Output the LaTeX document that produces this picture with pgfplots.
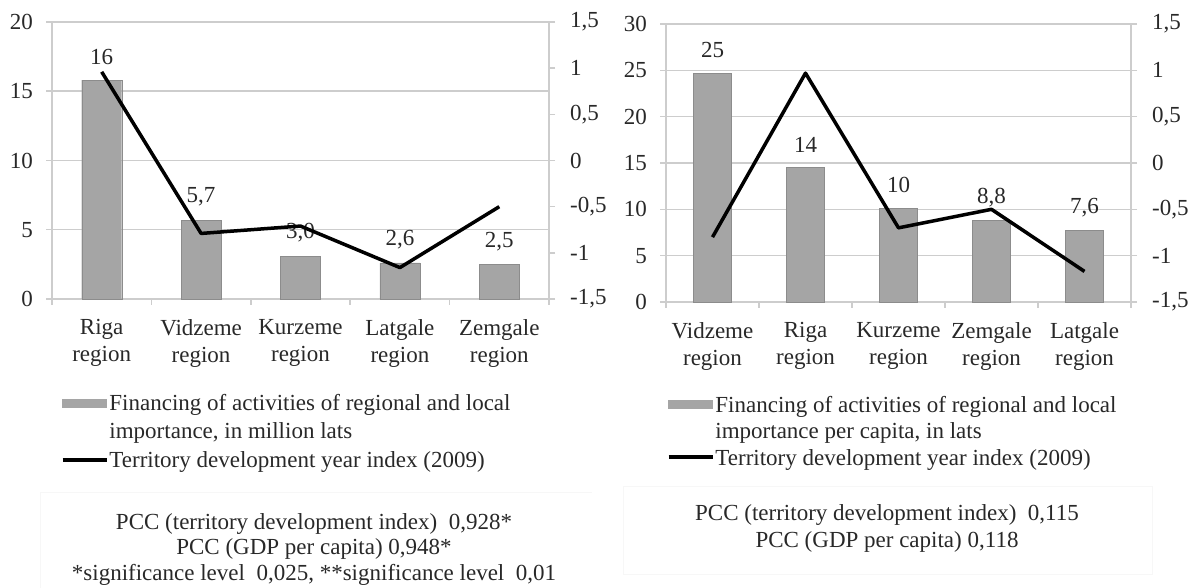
\documentclass[border=0pt]{standalone}
\usepackage{pgfplots}
\pgfplotsset{compat=1.18}
\usepackage{fontspec}
\setmainfont{Liberation Serif}

\definecolor{barfill}{RGB}{165,165,165}
\definecolor{barline}{RGB}{140,140,140}
\definecolor{gridc}{RGB}{205,205,205}
\definecolor{txt}{RGB}{40,40,40}
\newcommand{\fs}{\fontsize{23}{27}\selectfont}

\pgfplotsset{
  base/.style={
    scale only axis, anchor=south west, clip=false,
    xmin=-0.5, xmax=4.5,
    tick align=outside, major tick length=6pt,
    every tick/.style={gridc, line width=1.5pt},
    axis line style={gridc, line width=1.5pt},
    tick label style={font=\fs, text=txt, inner sep=0pt},
  },
  bars/.style={base,
    axis x line*=bottom, axis y line*=left,
    ymin=0, ymajorgrids, grid style={gridc, line width=1.5pt},
    xtick={-0.5,0.5,...,4.5}, x tick label as interval,
    xticklabel style={align=center, anchor=north, yshift=-14pt},
    yticklabel style={anchor=east, xshift=-13pt},
    nodes near coords={\pgfplotspointmeta}, point meta=explicit symbolic,
    every node near coord/.append style={font=\fs, text=txt, anchor=center, yshift=23pt},
    legend cell align=left,
  },
  lines/.style={base,
    axis x line=none, axis y line*=right,
    ymin=-1.5, ymax=1.5, ytick={-1.5,-1,...,1.5},
    yticklabels={{-1,5},{-1},{-0,5},0,{0,5},1,{1,5}},
    yticklabel style={anchor=west, xshift=15pt},
  },
  legbox/.style={draw=none, fill=none, inner sep=0pt, outer sep=0pt,
    row sep=0pt, column sep=1pt, font=\fs, text=txt, anchor=north west},
  barleg/.style={legend image code/.code={\fill[barfill] (0pt,-0.2pt) rectangle (44pt,7.8pt);}},
  lineleg/.style={legend image code/.code={\draw[black, line width=3.5pt] (0pt,3.8pt) -- (44pt,3.8pt);}},
}

\begin{document}
\begin{tikzpicture}
\useasboundingbox (0,0) rectangle (1191pt,588pt);

% ---------- left panel ----------
\begin{axis}[bars, at={(52pt,289pt)}, width=497pt, height=277pt,
    ymax=20, ytick={0,5,...,20}, yticklabels={0,5,10,15,20},
    xticklabels={{Riga\\region},{Vidzeme\\region},{Kurzeme\\region},{Latgale\\region},{Zemgale\\region}},
    legend style={legbox, at={(0.018,-0.3375)},
      nodes={inner sep=0pt, text height=18pt, text depth=10.5pt}}]
  \addplot[ybar, bar width=40pt, fill=barfill, draw=barline, barleg] coordinates {
    (0,15.8)[16] (1,5.7)[5,7] (2,3.1)[3,0] (3,2.6)[2,6] (4,2.5)[2,5]
  };
  \addlegendentry{Financing of activities of regional and local}
  \addlegendimage{empty legend}
  \addlegendentry{importance, in million lats}
  \addlegendimage{lineleg}
  \addlegendentry{Territory development year index (2009)}
\end{axis}
\begin{axis}[lines, at={(52pt,289pt)}, width=497pt, height=277pt]
  \addplot[black, line width=3.5pt, line join=round, mark=none] coordinates {
    (0,0.96) (1,-0.79) (2,-0.71) (3,-1.16) (4,-0.50)
  };
\end{axis}

% ---------- right panel ----------
\begin{axis}[bars, at={(666pt,286pt)}, width=465pt, height=278pt,
    ymax=30, ytick={0,5,...,30}, yticklabels={0,5,10,15,20,25,30},
    xticklabels={{Vidzeme\\region},{Riga\\region},{Kurzeme\\region},{Zemgale\\region},{Latgale\\region}},
    legend style={legbox, at={(0.002,-0.3327)},
      nodes={inner sep=0pt, text height=18pt, text depth=8.5pt}}]
  \addplot[ybar, bar width=38pt, fill=barfill, draw=barline, barleg] coordinates {
    (0,24.7)[25] (1,14.5)[14] (2,10.1)[10] (3,8.8)[8,8] (4,7.7)[7,6]
  };
  \addlegendentry{Financing of activities of regional and local}
  \addlegendimage{empty legend}
  \addlegendentry{importance per capita, in lats}
  \addlegendimage{lineleg}
  \addlegendentry{Territory development year index (2009)}
\end{axis}
\begin{axis}[lines, at={(666pt,286pt)}, width=465pt, height=278pt]
  \addplot[black, line width=3.5pt, line join=round, mark=none] coordinates {
    (0,-0.80) (1,0.97) (2,-0.70) (3,-0.50) (4,-1.17)
  };
\end{axis}

% ---------- notes below the panels ----------
\draw[black!3, line width=1pt] (40pt,0pt) -- (40pt,95pt) -- (592pt,95pt);
\draw[black!3, line width=1pt] (623pt,13pt) rectangle (1152pt,101pt);
\begin{scope}[every node/.style={anchor=base, font=\fs, text=txt, inner sep=0pt}]
  \node at (314pt,58.5pt) {PCC (territory development index)\ \ 0,928*};
  \node at (314pt,33.5pt) {PCC (GDP per capita) 0,948*};
  \node at (314pt,7.5pt) {*significance level\ \ 0,025, **significance level\ \ 0,01};
  \node at (887pt,67.5pt) {PCC (territory development index)\ \ 0,115};
  \node at (887pt,40.5pt) {PCC (GDP per capita) 0,118};
\end{scope}
\end{tikzpicture}
\end{document}
